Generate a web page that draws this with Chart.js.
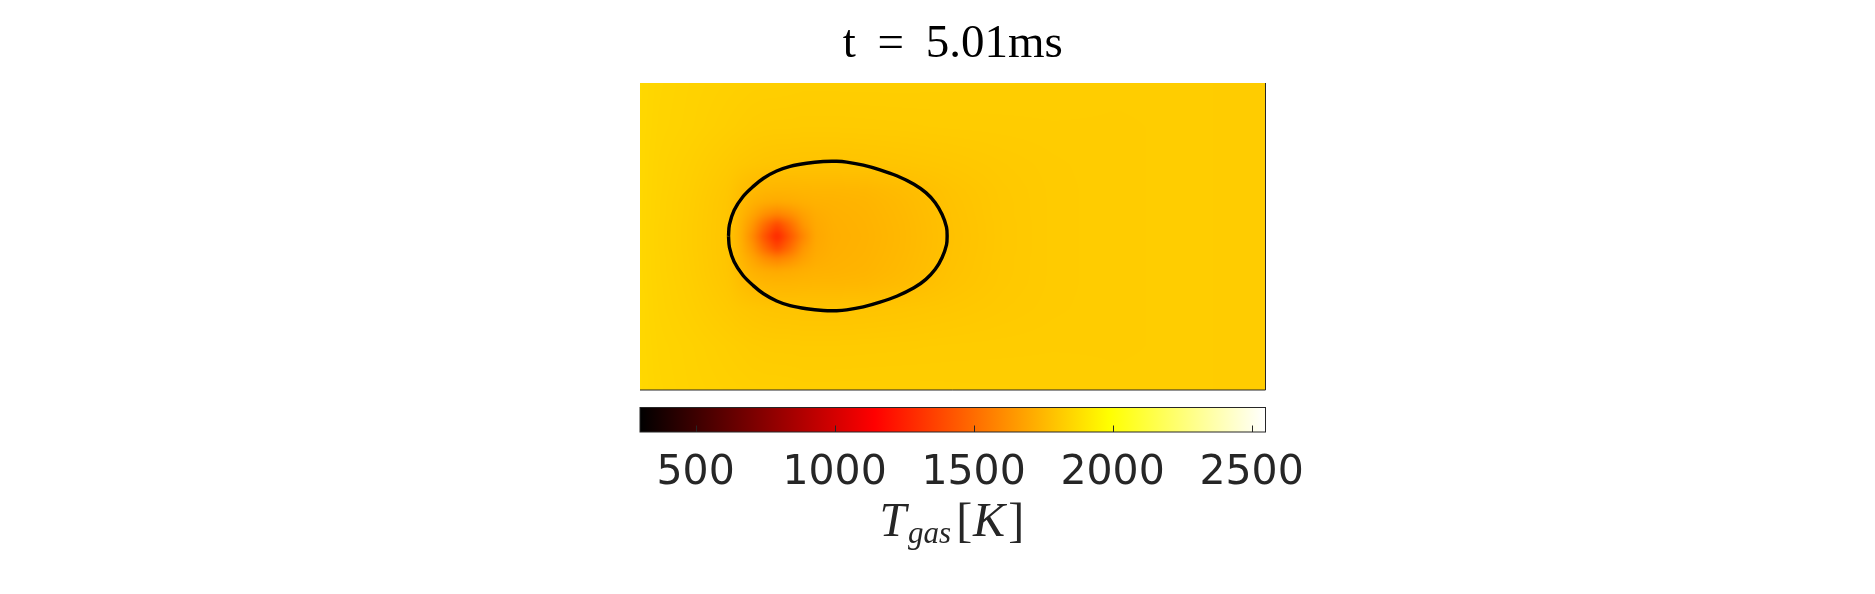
<!DOCTYPE html>
<html><head><meta charset="utf-8">
<script src="https://cdn.jsdelivr.net/npm/chart.js@4"></script>
<style>
html,body{margin:0;padding:0;background:#fff;width:1875px;height:594px;overflow:hidden}
.w{position:absolute;left:0;top:0;width:1875px;height:594px}
canvas{display:block}
</style></head><body>
<div class="w"><canvas id="field" width="1875" height="594"></canvas></div>
<div class="w"><canvas id="bar" width="1875" height="594"></canvas></div>
<script>
const titleText = "t = 5.01ms";
const tickValues = [500, 1000, 1500, 2000, 2500];
const colorMin = 300, colorMax = 2550;
const gridX = [0,3,8,14,16,18,20,21.9,24,26,28,31,36,42,50,58,66,76,88,100];
const gridY = [0,7,13,17,19,21,22.5,24.5,26.5,28,30,32,36,42,49];
const row00 = [1858,1848,1840,1833,1831,1829,1828,1828,1827,1826,1826,1826,1826,1826,1825,1824,1823,1821,1821,1819];
const row07 = [1857,1846,1838,1826,1822,1818,1816,1815,1815,1814,1814,1814,1815,1816,1818,1819,1820,1820,1821,1819];
const row13 = [1856,1843,1830,1810,1802,1797,1793,1791,1790,1789,1789,1789,1791,1795,1802,1810,1816,1820,1821,1819];
const row17 = [1855,1842,1826,1800,1775,1755,1745,1742,1742,1745,1746,1746,1750,1765,1790,1806,1815,1820,1821,1819];
const row19 = [1855,1841,1824,1797,1762,1730,1712,1705,1712,1722,1730,1733,1740,1758,1787,1805,1815,1820,1821,1819];
const row21 = [1855,1841,1823,1796,1748,1690,1615,1575,1615,1675,1712,1727,1736,1755,1785,1805,1815,1820,1821,1819];
const row22 = [1855,1840,1822,1796,1738,1645,1500,1390,1510,1640,1702,1724,1734,1753,1784,1804,1815,1820,1821,1819];
const row24 = [1855,1840,1822,1795,1732,1600,1410,1265,1430,1585,1695,1722,1732,1752,1783,1804,1815,1820,1821,1819];
const fieldRows = [row00,row07,row13,row17,row19,row21,row22,row24,row22,row21,row19,row17,row13,row07,row00];
const outlineX = [14.15,14.30,15.05,16.45,18.11,19.75,21.85,24.0,26.65,29.3,31.45,33.05,35.7,38.37,41.04,43.8,45.7,47.2,48.3,49.0,49.1,49.0,48.3,47.2,45.7,43.8,41.04,38.37,35.7,33.05,31.45,29.3,26.65,24.0,21.85,19.75,18.11,16.45,15.05,14.30,14.15];
const outlineY = [24.58,26.4,28.7,30.85,32.5,33.8,34.95,35.7,36.2,36.47,36.5,36.38,35.9,35.15,34.2,32.85,31.5,29.9,28.0,26.0,24.58,23.16,21.16,19.26,17.66,16.31,14.96,14.01,13.26,12.78,12.66,12.69,12.96,13.46,14.21,15.36,16.66,18.31,20.46,22.76,24.58];

function hot(t){
  const f = Math.min(1, Math.max(0, (t - colorMin) / (colorMax - colorMin)));
  return [Math.min(1, f / 0.375) * 255, Math.min(1, Math.max(0, (f - 0.375) / 0.375)) * 255, Math.max(0, (f - 0.75) / 0.25) * 255];
}
function seg(arr, v){
  let i = 0;
  while (i < arr.length - 2 && arr[i + 1] < v) i++;
  return [i, Math.min(1, Math.max(0, (v - arr[i]) / (arr[i + 1] - arr[i])))];
}
const fieldPlugin = {
  id: 'fieldPlugin',
  beforeDraw(chart){ chart.ctx.wordSpacing = '10px'; },
  beforeDatasetsDraw(chart){
    const {ctx, chartArea: a, scales: {x, y}} = chart;
    ctx.wordSpacing = '0px';
    const w = Math.round(a.right - a.left), h = Math.round(a.bottom - a.top);
    const off = document.createElement('canvas'); off.width = w; off.height = h;
    const oc = off.getContext('2d');
    const img = oc.createImageData(w, h);
    for (let j = 0; j < h; j++){
      const [r, v] = seg(gridY, y.getValueForPixel(a.top + j + 0.5));
      for (let i = 0; i < w; i++){
        const [c, u] = seg(gridX, x.getValueForPixel(a.left + i + 0.5));
        const t = (1 - v) * ((1 - u) * fieldRows[r][c] + u * fieldRows[r][c + 1]) + v * ((1 - u) * fieldRows[r + 1][c] + u * fieldRows[r + 1][c + 1]);
        const k = (j * w + i) * 4, rgb = hot(t);
        img.data[k] = rgb[0]; img.data[k + 1] = rgb[1]; img.data[k + 2] = rgb[2]; img.data[k + 3] = 255;
      }
    }
    oc.putImageData(img, 0, 0);
    ctx.save();
    ctx.beginPath(); ctx.rect(a.left, a.top, w, h); ctx.clip();
    ctx.drawImage(off, a.left, a.top, w, h);
    ctx.filter = 'blur(2px)';
    ctx.drawImage(off, a.left, a.top, w, h);
    ctx.filter = 'none';
    ctx.restore();
    ctx.save();
    ctx.strokeStyle = '#262626'; ctx.lineWidth = 1;
    ctx.beginPath();
    ctx.moveTo(a.right, a.top); ctx.lineTo(a.right, a.bottom); ctx.lineTo(a.left, a.bottom);
    ctx.stroke();
    ctx.restore();
  }
};
new Chart(document.getElementById('field'), {
  type: 'scatter',
  plugins: [fieldPlugin],
  data: { datasets: [{
    label: 'outline',
    data: outlineX.map((v, i) => ({x: v, y: outlineY[i]})),
    showLine: true, borderColor: '#000', borderWidth: 3.4, pointRadius: 0, tension: 0.35, fill: false
  }]},
  options: {
    responsive: false, animation: false, devicePixelRatio: 1,
    layout: { padding: { left: 640, right: 609.5, top: 0, bottom: 204 } },
    plugins: {
      legend: { display: false }, tooltip: { enabled: false },
      title: { display: true, text: titleText, color: '#000',
        font: { family: '"Liberation Serif"', size: 47, weight: 'normal', lineHeight: 1.2 },
        padding: { top: 16.5, bottom: 10.1 } }
    },
    scales: {
      x: { type: 'linear', min: 0, max: 100, display: false },
      y: { type: 'linear', min: 0, max: 49, display: false }
    }
  }
});
const barPlugin = {
  id: 'barPlugin',
  beforeDatasetsDraw(chart){
    const {ctx, chartArea: a, scales: {x}} = chart;
    const stops = [colorMin, colorMin + 0.375 * (colorMax - colorMin), colorMin + 0.75 * (colorMax - colorMin), colorMax];
    const g = ctx.createLinearGradient(x.getPixelForValue(colorMin), 0, x.getPixelForValue(colorMax), 0);
    stops.forEach(s => { const c = hot(s); g.addColorStop((s - colorMin) / (colorMax - colorMin), `rgb(${c.join(',')})`); });
    ctx.save();
    ctx.fillStyle = g;
    ctx.fillRect(a.left, a.top, a.right - a.left, a.bottom - a.top);
    ctx.strokeStyle = '#262626'; ctx.lineWidth = 1;
    ctx.strokeRect(a.left, a.top, a.right - a.left, a.bottom - a.top);
    ctx.beginPath();
    tickValues.forEach(t => { const p = Math.round(x.getPixelForValue(t)) + 0.5; ctx.moveTo(p, a.bottom); ctx.lineTo(p, a.bottom - 6.5); });
    ctx.stroke();
    ctx.restore();
  },
  afterDraw(chart){
    const {ctx, chartArea: a} = chart;
    const big = 'italic 48px "Liberation Serif"', sub = 'italic 31px "Liberation Serif"', up = '48px "Liberation Serif"';
    const parts = [['T', big, 0, 2], ['gas', sub, 7, 5], ['[', up, 0, 1], ['K', big, 0, 3], [']', up, 0, 0]];
    ctx.save();
    ctx.fillStyle = '#262626'; ctx.textBaseline = 'alphabetic'; ctx.textAlign = 'left';
    let total = 0;
    parts.forEach(p => { ctx.font = p[1]; total += ctx.measureText(p[0]).width + p[3]; });
    let px = (a.left + a.right) / 2 - total / 2 - 1;
    parts.forEach(p => { ctx.font = p[1]; ctx.fillText(p[0], px, 536 + p[2]); px += ctx.measureText(p[0]).width + p[3]; });
    ctx.restore();
  }
};
new Chart(document.getElementById('bar'), {
  type: 'scatter',
  plugins: [barPlugin],
  data: { datasets: [{ label: 'Tgas', data: [] }] },
  options: {
    responsive: false, animation: false, devicePixelRatio: 1,
    layout: { padding: { left: 640, right: 609.5, top: 407.5, bottom: 91.5 } },
    plugins: { legend: { display: false }, tooltip: { enabled: false } },
    scales: {
      x: { type: 'linear', min: colorMin, max: colorMax,
        afterFit(s){ s.height = 70.5; },
        afterBuildTicks(s){ s.ticks = tickValues.map(v => ({value: v})); },
        border: { display: false }, grid: { display: false },
        ticks: { autoSkip: false, maxRotation: 0, color: '#262626', padding: 9,
          callback: v => String(v),
          font: { family: '"DejaVu Sans"', size: 41 } } },
      y: { min: 0, max: 1, display: false }
    }
  }
});
</script>
</body></html>
